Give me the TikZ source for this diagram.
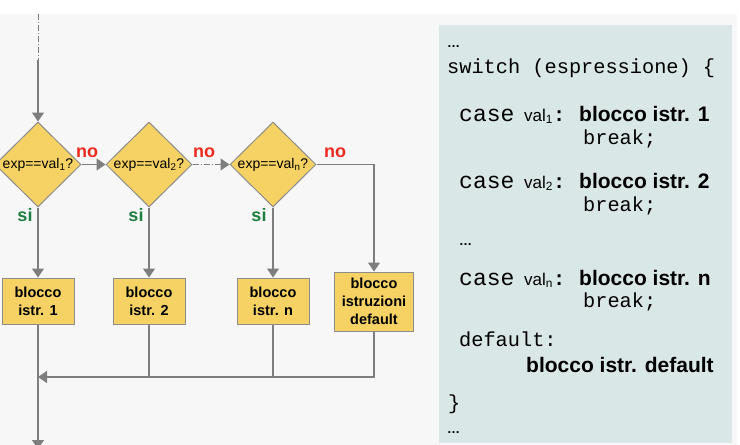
\documentclass[tikz,border=0pt]{standalone}
\usepackage{fontspec}
\setmainfont{Liberation Sans}
\newfontfamily\codefont{Liberation Mono}
\usetikzlibrary{shapes.geometric,arrows.meta}

\definecolor{bggrey}{HTML}{F7F7F7}
\definecolor{panelblue}{HTML}{DAE7E7}
\definecolor{boxgold}{HTML}{F6D264}
\definecolor{edgegrey}{HTML}{8C8C8C}
\definecolor{linegrey}{HTML}{7E7E7E}
\definecolor{nored}{HTML}{EE2A1E}
\definecolor{sigreen}{HTML}{1E8040}

\newcommand{\caseval}[1]{\makebox[65pt][l]{\codefont\fontsize{23}{24}\selectfont case}%
  \makebox[55pt][l]{\rmfamily\fontsize{17}{18}\selectfont val\textsubscript{#1}\codefont\fontsize{20.3}{22}\selectfont\bfseries:}}

\begin{document}
\begin{tikzpicture}[x=1pt, y=-1pt,
  decision/.style={diamond, draw=edgegrey, fill=boxgold, line width=1pt, minimum width=86pt, minimum height=85pt, inner sep=0pt, font=\fontsize{14}{16}\selectfont},
  block/.style={rectangle, draw=edgegrey, fill=boxgold, line width=1pt, minimum width=72pt, minimum height=46pt, inner sep=0pt, align=center, font=\fontsize{14.5}{18}\selectfont\bfseries},
  flow/.style={draw=linegrey, line width=1.1pt},
  arrowflow/.style={flow, -{Triangle[width=12pt,length=9pt]}},
  dashdot/.style={dash pattern=on 6pt off 2pt on 1pt off 2pt},
  nolabel/.style={text=nored, anchor=base, inner sep=0pt, font=\fontsize{18}{18}\selectfont\bfseries},
  silabel/.style={text=sigreen, anchor=base, inner sep=0pt, font=\fontsize{18}{18}\selectfont\bfseries},
  codeline/.style={anchor=base west, inner sep=0pt, font=\codefont\fontsize{20.3}{22}\selectfont},
  boldline/.style={anchor=base west, inner sep=0pt, font=\fontsize{21}{24}\selectfont\bfseries},
  dotsline/.style={anchor=base west, inner sep=0pt, font=\fontsize{13}{14}\selectfont\bfseries}]

\useasboundingbox (0,0) rectangle (740,445);

% Backgrounds
\fill[white] (0,0) rectangle (740,445);
\fill[bggrey] (0,14) rectangle (737,445);
\fill[panelblue] (439,25) rectangle (732,443);

% Decisions
\node[decision] (d1) at (38,164.5) {\makebox[0pt]{exp==val\textsubscript{1}?}};
\node[decision] (d2) at (149,164.5) {\makebox[0pt]{exp==val\textsubscript{2}?}};
\node[decision] (d3) at (273,164.5) {\makebox[0pt]{exp==val\textsubscript{n}?}};

% Blocks
\node[block] (b1) at (38,301) {blocco\\istr. 1};
\node[block] (b2) at (149,301) {blocco\\istr. 2};
\node[block] (b3) at (273,301) {blocco\\istr. n};
\node[block, minimum width=79pt, minimum height=59pt] (bdef) at (374,301.5) {blocco\\istruzioni\\default};

% Labels
\node[nolabel] (no1) at (87,157) {no};
\node[nolabel] (no2) at (204,157) {no};
\node[nolabel] (no3) at (335,157) {no};
\node[silabel] (si1) at (25,221) {si};
\node[silabel] (si2) at (136,221) {si};
\node[silabel] (si3) at (259,221) {si};

% Connectors
\coordinate (top) at (38,14);
\coordinate (entry) at (38,60);
\coordinate (j1) at (38,377);
\coordinate (j2) at (149,377);
\coordinate (j3) at (273,377);
\coordinate (j4) at (374,377);
\coordinate (exit) at (38,449);

\draw[flow, line width=0.8pt, dashdot] (top) -- (entry);
\draw[arrowflow] (entry) -- (d1.north);
\draw[arrowflow] (d1.east) -- (d2.west);
\draw[arrowflow, dashdot] (d2.east) -- (d3.west);
\draw[arrowflow] (d3.east) -| (bdef.north);
\draw[arrowflow] (d1.south) -- (b1.north);
\draw[arrowflow] (d2.south) -- (b2.north);
\draw[arrowflow] (d3.south) -- (b3.north);
\draw[flow] (b2.south) -- (j2);
\draw[flow] (b3.south) -- (j3);
\draw[arrowflow] (bdef.south) -- (j4) -- (j1);
\draw[arrowflow] (b1.south) -- (exit);

% Switch code
\node[dotsline] (dots1) at (447,47) {…};
\node[codeline] (sw) at (447,73) {switch (espressione) \{};
\node[codeline] (case1) at (459,121) {\caseval{1}{\rmfamily\fontsize{21}{24}\selectfont\bfseries blocco istr. 1}};
\node[codeline] (brk1) at (583,144) {break;};
\node[codeline] (case2) at (459,188) {\caseval{2}{\rmfamily\fontsize{21}{24}\selectfont\bfseries blocco istr. 2}};
\node[codeline] (brk2) at (583,211) {break;};
\node[dotsline] (dots2) at (459,245) {…};
\node[codeline] (casen) at (459,285) {\caseval{n}{\rmfamily\fontsize{21}{24}\selectfont\bfseries blocco istr. n}};
\node[codeline] (brkn) at (583,307) {break;};
\node[codeline] (dflt) at (459,346) {default:};
\node[boldline] (bdflt) at (526,372) {blocco istr. default};
\node[codeline] (close) at (448,409) {\}};
\node[dotsline] (dots3) at (447,433) {…};

\end{tikzpicture}
\end{document}
